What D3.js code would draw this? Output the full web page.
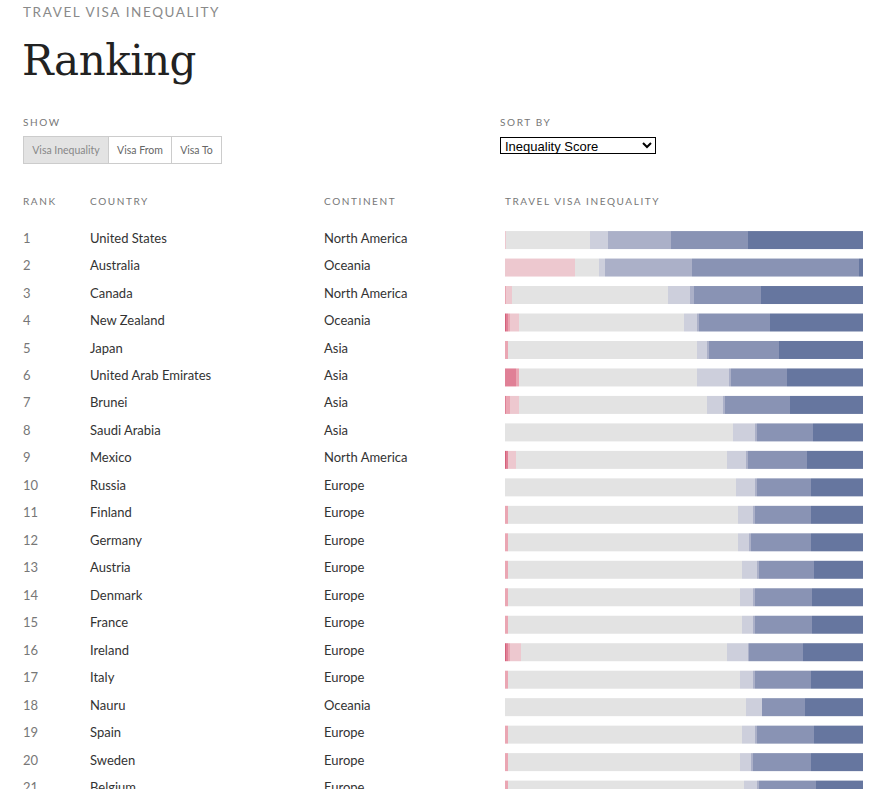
<!DOCTYPE html>
<html>
<head>
<meta charset="utf-8">
<script src="https://cdn.jsdelivr.net/npm/d3@7"></script>
<style>
  body { margin: 0; background: #fff; overflow: hidden; }
  #wrap { position: relative; width: 880px; height: 789px; }
  svg { position: absolute; left: 0; top: 0; }
  select {
    position: absolute; left: 500px; top: 137px; width: 156px; height: 17px;
    font: 13px "Liberation Sans", Arial, sans-serif; color: #000;
    border: 1px solid #000; border-radius: 0; background: #fff; padding: 0;
  }
</style>
</head>
<body>
<div id="wrap"></div>
<script>
const countries = ['United States', 'Australia', 'Canada', 'New Zealand', 'Japan',
  'United Arab Emirates', 'Brunei', 'Saudi Arabia', 'Mexico', 'Russia', 'Finland',
  'Germany', 'Austria', 'Denmark', 'France', 'Ireland', 'Italy', 'Nauru', 'Spain',
  'Sweden', 'Belgium'];
const continents = ['North America', 'Oceania', 'North America', 'Oceania', 'Asia',
  'Asia', 'Asia', 'Asia', 'North America', 'Europe', 'Europe', 'Europe', 'Europe',
  'Europe', 'Europe', 'Europe', 'Europe', 'Oceania', 'Europe', 'Europe', 'Europe'];
const ranks = countries.map((c, i) => i + 1);

// share of each inequality band, per country
const bands = ['v0', 'v1', 'v2', 'v3', 'v4', 'v5', 'v6', 'v7', 'v8'];
const v0 = [0, 0, 0, 1, 0, 0, 0, 0, 1, 0, 0, 0, 0, 0, 0, 1, 0, 0, 0, 0, 0];
const v1 = [0, 0, 0, 2, 0, 11, 1, 0, 2, 0, 0, 0, 0, 0, 0, 2, 0, 0, 0, 0, 0];
const v2 = [0, 0, 1, 2, 3, 3, 4, 0, 0, 0, 3, 3, 3, 3, 3, 2, 3, 0, 3, 3, 3];
const v3 = [1, 70, 6, 9, 0, 0, 9, 0, 8, 0, 0, 0, 0, 0, 0, 11, 0, 0, 0, 0, 0];
const v4 = [84, 24, 156, 165, 189, 178, 188, 228, 211, 231, 230, 230, 234, 232, 234, 206, 232, 241, 234, 232, 236];
const v5 = [18, 6, 22, 13, 10, 32, 16, 22, 19, 19, 15, 11, 15, 13, 11, 21, 13, 16, 13, 11, 13];
const v6 = [63, 87, 4, 2, 2, 2, 2, 2, 2, 2, 2, 2, 2, 2, 2, 1, 2, 0, 2, 2, 2];
const v7 = [77, 167, 67, 71, 70, 56, 65, 56, 59, 54, 56, 60, 55, 57, 57, 54, 56, 43, 57, 58, 57];
const v8 = [115, 4, 102, 93, 84, 76, 73, 50, 56, 52, 52, 52, 49, 51, 51, 60, 52, 58, 49, 52, 47];
const bandColors = ['#d5607a', '#e08096', '#eaa6b3', '#edc8cf', '#e3e3e3',
  '#cdcfdc', '#abb0c8', '#8993b4', '#66769f'];

const showButtons = ['Visa Inequality', 'Visa From', 'Visa To'];
const sortOptions = ['Inequality Score', 'Visa From', 'Visa To', 'Country'];

const bandValues = { v0, v1, v2, v3, v4, v5, v6, v7, v8 };
const table = countries.map((c, i) => {
  const row = { country: c, continent: continents[i], rank: ranks[i] };
  bands.forEach(b => row[b] = bandValues[b][i]);
  return row;
});

const width = 880;
const height = 789;
const sans = 'Lato, "Open Sans", sans-serif';

const wrap = d3.select('#wrap');
const svg = wrap.append('svg')
    .attr('width', width)
    .attr('height', height);

// header
svg.append('text')
    .attr('x', 23)
    .attr('y', 17)
    .attr('fill', '#8a8a8a')
    .style('font-family', sans)
    .style('font-size', '13.5px')
    .style('letter-spacing', '1.6px')
    .text('TRAVEL VISA INEQUALITY');

svg.append('text')
    .attr('x', 22)
    .attr('y', 75)
    .attr('fill', '#222')
    .style('font-family', '"DejaVu Serif", "Liberation Serif", serif')
    .style('font-size', '42px')
    .style('letter-spacing', '-0.5px')
    .text('Ranking');

const smallLabel = (x, y, t) => svg.append('text')
    .attr('x', x)
    .attr('y', y)
    .attr('fill', '#777')
    .style('font-family', sans)
    .style('font-size', '10px')
    .style('letter-spacing', '1.6px')
    .text(t);

smallLabel(23, 126, 'SHOW');
smallLabel(500, 126, 'SORT BY');

// show buttons
const btnX = [23, 108, 171, 221];
const btns = svg.append('g').selectAll('g')
    .data(showButtons)
    .join('g');
btns.append('rect')
    .attr('x', (d, i) => btnX[i] + 0.5)
    .attr('y', 136.5)
    .attr('width', (d, i) => btnX[i + 1] - btnX[i])
    .attr('height', 27)
    .attr('fill', (d, i) => i === 0 ? '#e3e3e3' : '#fff')
    .attr('stroke', '#cccccc');
btns.append('text')
    .attr('x', (d, i) => (btnX[i] + btnX[i + 1]) / 2 + 0.5)
    .attr('y', 150)
    .attr('dy', '0.35em')
    .attr('text-anchor', 'middle')
    .attr('fill', (d, i) => i === 0 ? '#888' : '#666')
    .style('font-family', sans)
    .style('font-size', '10.5px')
    .text(d => d);

// sort select
wrap.append('select')
  .selectAll('option')
  .data(sortOptions)
  .join('option')
    .text(d => d);

// column headings
smallLabel(23, 205, 'RANK');
smallLabel(90, 205, 'COUNTRY');
smallLabel(324, 205, 'CONTINENT');
smallLabel(505, 205, 'TRAVEL VISA INEQUALITY');

const y = d3.scaleBand()
    .domain(countries)
    .range([226.4, 226.4 + 27.47 * countries.length])
    .paddingInner(0.345)
    .paddingOuter(0.17);

const x = d3.scaleLinear()
    .domain([0, 1])
    .range([505, 863]);

const stack = d3.stack()
    .keys(bands)
    .offset(d3.stackOffsetExpand);
const series = stack(table);

const rowText = svg.append('g')
    .style('font-family', sans)
    .style('font-size', '13px');

const rows = rowText.selectAll('g')
    .data(table)
    .join('g')
    .attr('transform', d => `translate(0, ${y(d.country) + y.bandwidth() / 2 - 2})`);

rows.append('text')
    .attr('x', 23)
    .attr('dy', '0.35em')
    .attr('fill', '#777')
    .text(d => d.rank);
rows.append('text')
    .attr('x', 90)
    .attr('dy', '0.35em')
    .attr('fill', '#333')
    .text(d => d.country);
rows.append('text')
    .attr('x', 324)
    .attr('dy', '0.35em')
    .attr('fill', '#333')
    .text(d => d.continent);

svg.append('g')
  .selectAll('g')
  .data(series)
  .join('g')
    .attr('fill', (d, i) => bandColors[i])
  .selectAll('rect')
  .data(d => d)
  .join('rect')
    .attr('x', d => x(d[0]))
    .attr('y', d => y(d.data.country))
    .attr('width', d => x(d[1]) - x(d[0]))
    .attr('height', y.bandwidth());
</script>
</body>
</html>
